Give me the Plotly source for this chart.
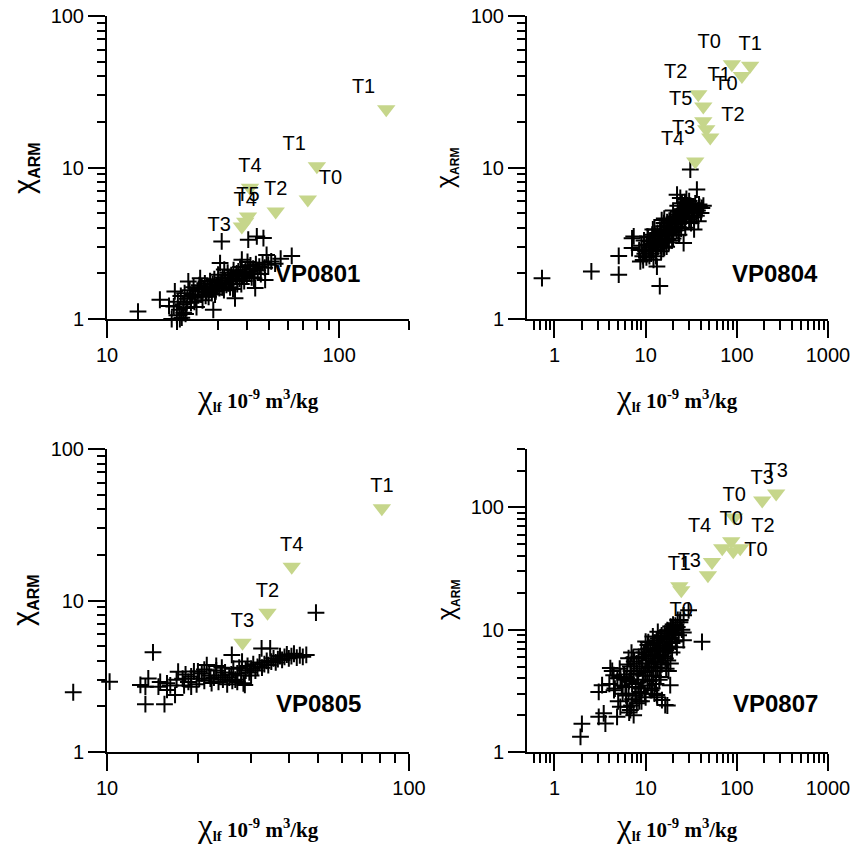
import plotly.graph_objects as go
import numpy as np

W, H = 854, 849

# ---------------- data ----------------
# VP0801
p1_cross_x = [13.6, 16.9, 18.5, 19.0, 19.4, 19.6, 20.0, 20.2, 20.5, 20.8, 21.0, 21.3, 21.6, 22.0, 22.2, 22.4, 22.7, 23.0, 23.3, 23.6,
              24.0, 24.3, 24.6, 25.0, 25.2, 25.5, 25.8, 26.1, 26.4, 26.8, 27.1, 27.4, 27.8, 28.1, 28.5, 28.7, 29.0, 29.4, 29.8, 30.1,
              30.5, 30.7, 31.0, 31.2, 31.5, 31.9, 32.3, 32.7, 33.1, 33.5, 33.9, 34.3, 34.7, 35.1, 35.6, 36.0, 36.4, 36.8, 37.2, 37.6,
              38.1, 38.5, 39.0, 39.5, 40.0, 40.6, 41.0, 41.5, 42.0, 42.6, 43.2, 43.5, 43.8, 44.2, 44.6, 45.3, 46.0, 46.8, 47.2, 47.8,
              48.0, 48.7, 49.5, 51.0, 53.0, 56.0, 62.5, 21.4, 23.8, 26.6, 29.2, 32.0, 34.9, 37.9, 40.3, 43.0, 24.8, 27.6, 30.3, 33.3,
              36.2, 39.2, 22.8, 25.6, 28.3, 31.4, 34.5, 20.6, 21.8]
p1_cross_y = [1.12, 1.34, 1.22, 1.00, 1.21, 1.52, 1.06, 1.30, 1.15, 1.42, 1.02, 1.25, 1.48, 1.18, 1.36, 1.77, 1.55, 1.28, 1.44, 1.62,
              1.38, 1.20, 1.52, 1.67, 1.86, 1.45, 1.33, 1.58, 1.72, 1.50, 1.64, 1.40, 1.78, 1.57, 1.69, 1.15, 1.83, 1.52, 1.66, 1.96,
              1.60, 2.34, 1.74, 3.25, 1.88, 1.55, 1.80, 1.68, 2.02, 1.86, 1.62, 1.95, 1.78, 2.10, 1.37, 1.90, 1.70, 2.06, 1.84, 2.20,
              2.46, 1.96, 1.78, 2.12, 1.92, 3.34, 2.05, 2.26, 1.88, 2.15, 2.00, 1.60, 2.30, 3.51, 2.10, 2.22, 1.98, 2.35, 3.42, 2.18,
              1.81, 2.65, 2.28, 2.40, 2.32, 2.50, 2.61, 1.10, 1.30, 1.42, 1.45, 2.12, 1.58, 1.70, 2.38, 1.85, 1.58, 1.55, 1.75, 1.72,
              2.00, 2.02, 1.40, 1.62, 1.48, 1.62, 1.85, 1.00, 1.08]
p1_tri_x = [159.6, 80.2, 73.3, 53.3, 41.3, 40.5, 39.4, 38.1]
p1_tri_y = [24.2, 10.2, 6.14, 5.13, 7.34, 4.74, 4.39, 4.08]
p1_tri_lab = ["T1", "T1", "T0", "T2", "T4", "T5", "T4", "T3"]

# VP0804
p2_cross_x = [0.73, 2.54, 5.07, 5.07, 7.1, 7.4, 7.1, 8.75, 8.5, 9.0, 9.3, 9.6, 10.0, 10.3, 10.6, 10.9, 11.2, 11.5, 11.8, 12.2,
              12.4, 12.7, 13.0, 13.3, 13.5, 13.8, 14.1, 14.3, 14.6, 15.0, 15.3, 15.7, 16.0, 16.4, 16.8, 17.2, 17.6, 18.0, 18.4, 18.8,
              19.2, 19.6, 20.0, 20.5, 21.0, 21.5, 22.0, 22.1, 22.5, 23.0, 23.5, 24.0, 24.5, 25.0, 25.5, 26.1, 26.5, 27.0, 27.5, 28.0,
              29.0, 30.0, 30.9, 31.0, 32.0, 33.0, 34.0, 35.0, 36.5, 37.0, 37.8, 39.0, 41.4, 43.0, 11.0, 13.0, 9.4, 16.0, 18.0, 20.0,
              24.0, 27.0, 15.0, 12.0, 22.5, 30.0, 34.0,
              9.8, 10.5, 11.3, 12.0, 12.9, 13.6, 14.4, 15.2, 15.9, 16.6, 17.4, 18.2, 19.0, 19.8, 20.8, 21.8, 22.8, 23.8, 24.8, 25.8,
              26.8, 28.5, 30.5, 32.5, 10.2, 14.8, 17.0, 19.5, 23.2, 27.2, 31.5, 12.5, 16.0, 20.0, 25.0, 28.0, 34.5, 36.0, 38.5, 40.5,
              11.8, 15.6]
p2_cross_y = [1.86, 2.06, 1.96, 2.61, 2.94, 3.51, 3.41, 2.40, 2.85, 3.05, 2.60, 3.30, 2.80, 3.10, 3.45, 2.95, 3.25, 2.70, 3.60, 2.46,
              3.15, 3.40, 2.95, 2.22, 3.70, 3.25, 3.50, 1.65, 3.05, 3.85, 3.40, 4.10, 3.60, 3.25, 3.90, 4.35, 3.55, 4.05, 3.75, 4.55,
              3.90, 4.25, 3.60, 4.70, 4.05, 4.40, 3.85, 6.62, 4.90, 4.25, 5.10, 4.55, 3.95, 5.30, 4.65, 3.17, 5.00, 4.40, 5.50, 4.80,
              5.20, 4.55, 9.70, 5.60, 5.00, 5.40, 4.70, 5.80, 7.15, 5.20, 4.41, 5.50, 5.41, 5.60, 2.60, 2.60, 2.45, 2.95, 3.20, 3.40,
              6.30, 5.90, 4.50, 3.90, 5.60, 6.00, 3.90,
              2.70, 3.50, 3.05, 3.30, 3.55, 3.00, 3.75, 3.20, 4.30, 3.70, 3.35, 4.45, 4.10, 3.75, 4.35, 4.75, 4.05, 4.85, 4.30, 5.05,
              4.65, 5.15, 5.00, 5.35, 2.55, 2.80, 3.00, 3.30, 3.60, 4.00, 4.30, 3.90, 4.60, 5.20, 5.80, 6.20, 5.20, 4.80, 5.70, 5.00,
              2.85, 3.00]
p2_tri_x = [88.3, 140.0, 113.7, 37.8, 42.9, 42.9, 46.2, 51.1, 35.0]
p2_tri_y = [48.1, 46.9, 40.2, 30.4, 25.3, 20.2, 17.9, 15.8, 10.96]
p2_tri_lab = ["T0", "T1", "T1", "T2", "T0", "T5", "T3", "T2", "T4"]

# VP0805
p3_cross_x = [7.73, 10.2, 14.2, 13.4, 15.5, 13.4, 12.9, 13.7, 14.8, 15.8, 16.8, 15.8, 17.2, 15.0, 16.2, 17.8, 18.2, 18.6, 19.0, 19.4,
              19.8, 20.2, 20.6, 21.0, 21.4, 21.8, 22.2, 22.6, 23.0, 23.4, 23.8, 24.2, 24.6, 25.0, 25.4, 25.9, 25.8, 26.2, 26.6, 27.0,
              27.4, 27.8, 28.3, 28.6, 28.8, 29.2, 29.6, 30.0, 30.5, 31.0, 31.5, 32.0, 32.5, 32.6, 33.2, 33.8, 34.2, 34.7, 35.0, 35.6,
              36.2, 36.8, 37.4, 38.0, 38.7, 39.4, 40.0, 40.8, 41.6, 42.5, 43.5, 44.5, 45.7, 49.2, 21.0, 23.0, 19.0, 24.0, 26.0, 28.0,
              30.0, 17.0, 18.0, 22.0, 20.0, 27.0]
p3_cross_y = [2.48, 2.91, 4.55, 2.07, 2.07, 2.70, 2.77, 3.06, 2.70, 2.57, 2.38, 2.84, 3.39, 2.90, 2.75, 3.05, 3.25, 2.90, 3.15, 3.40,
              2.80, 3.05, 3.30, 2.95, 3.75, 3.20, 2.85, 3.10, 3.45, 2.90, 3.20, 3.00, 3.35, 2.80, 3.10, 4.37, 3.25, 3.55, 3.00, 3.30,
              3.60, 3.20, 2.84, 2.77, 3.45, 3.70, 3.35, 3.55, 3.80, 3.45, 3.65, 3.90, 4.83, 3.60, 3.80, 4.00, 3.75, 4.83, 3.95, 4.15,
              3.90, 4.10, 4.30, 4.05, 4.25, 4.40, 4.15, 4.30, 4.45, 4.20, 4.35, 4.25, 4.37, 8.31, 3.50, 3.70, 2.70, 3.60, 2.95, 3.95,
              3.20, 3.00, 2.75, 3.05, 3.40, 2.90]
p3_tri_x = [81.3, 40.9, 34.0, 28.1]
p3_tri_y = [40.6, 16.7, 8.31, 5.27]
p3_tri_lab = ["T1", "T4", "T2", "T3"]

# VP0807
p4_cross_x = [1.93, 2.0, 3.06, 3.47, 3.62, 3.06, 3.33, 4.46, 4.86, 5.28, 6.25, 6.8, 7.39, 16.4, 18.6, 41.5, 29.6, 26.1, 24.0, 19.5,
              15.1, 13.3, 4.0, 4.3, 4.6, 4.9, 5.2, 5.5, 5.8, 6.1, 6.3, 6.6, 6.9, 7.2, 7.5, 7.8, 8.1, 8.4, 8.7, 9.0,
              9.3, 9.6, 9.9, 10.2, 10.5, 10.8, 11.1, 11.4, 11.7, 12.0, 12.3, 12.6, 12.9, 13.2, 13.5, 13.8, 14.1, 14.4, 14.7, 15.0,
              15.4, 15.8, 16.2, 16.6, 17.0, 17.5, 18.0, 18.5, 19.0, 19.5, 20.0, 20.7, 21.4, 22.2, 23.0, 23.8, 25.0, 22.0, 17.8, 11.5,
              8.0, 6.0, 5.0, 7.0, 10.0, 9.0, 12.5, 26.0, 25.9, 4.1, 6.5, 10.7, 17.3, 18.7, 13.4, 17.3,
              6.2, 6.5, 6.8, 7.1, 7.4, 7.7, 8.0, 8.3, 8.6, 8.9, 9.2, 9.5, 9.8, 10.1, 10.4, 10.7, 11.0, 11.3, 11.6, 11.9,
              12.2, 12.5, 12.8, 13.1, 13.4, 13.7, 14.0, 14.3, 14.6, 15.0, 15.5, 16.0, 16.5, 17.0, 17.6, 18.2, 18.8, 19.5, 20.3, 21.2,
              22.5, 8.5, 10.0, 11.8, 13.0, 14.6, 16.8, 7.0, 5.6, 5.9, 7.3, 9.0, 10.6, 12.0, 13.6, 6.6, 4.5, 5.3]
p4_cross_y = [1.33, 1.70, 1.94, 2.07, 1.71, 3.10, 3.52, 4.25, 1.94, 2.34, 2.34, 2.20, 2.00, 2.42, 3.52, 7.95, 14.4, 13.1, 12.0, 10.2,
              2.66, 2.92, 3.6, 4.6, 3.3, 4.0, 4.8, 3.5, 4.3, 2.9, 5.2, 3.8, 4.6, 2.7, 5.5, 3.4, 4.4, 6.0, 3.1, 5.0,
              3.9, 6.5, 4.5, 5.6, 3.5, 7.0, 4.9, 6.1, 4.2, 7.6, 5.4, 6.6, 4.6, 8.2, 5.8, 7.1, 3.9, 6.3, 8.7, 5.2,
              7.4, 6.0, 9.3, 6.8, 8.0, 5.6, 9.8, 7.3, 8.6, 6.5, 11.0, 9.2, 8.0, 10.5, 9.0, 11.5, 10.0, 7.2, 4.6, 3.2,
              2.5, 3.4, 2.6, 6.5, 8.0, 2.6, 3.0, 8.2, 9.5, 4.85, 5.85, 7.9, 9.9, 5.3, 2.8, 2.4,
              4.0, 3.0, 5.0, 3.6, 4.3, 2.9, 5.3, 3.7, 4.8, 3.3, 5.8, 4.2, 3.0, 6.3, 4.6, 5.3, 3.8, 7.0, 5.0, 6.0,
              4.2, 7.8, 5.5, 6.8, 4.9, 8.5, 6.2, 7.4, 5.4, 9.0, 6.6, 8.0, 5.8, 9.6, 7.0, 8.4, 10.6, 7.8, 9.8, 10.8,
              12.0, 2.6, 2.8, 3.3, 3.6, 4.1, 4.8, 2.4, 3.0, 3.9, 5.9, 6.9, 7.5, 8.8, 9.6, 2.1, 3.2, 4.1]
p4_tri_x = [270.0, 190.0, 93.7, 86.8, 109.0, 69.2, 91.4, 53.4, 48.2, 23.4, 24.6]
p4_tri_y = [130.0, 114.0, 82.8, 52.8, 46.3, 46.3, 43.7, 35.8, 27.9, 22.6, 21.0]
p4_tri_lab = ["T3", "T3", "T0", "T0", "T2", "T4", "T0", "T3", "", "T1", "T0"]

panel_names = ["VP0801", "VP0804", "VP0805", "VP0807"]

# ---------------- layout helpers ----------------
def xdom(a, b):
    return [a / W, b / W]

def ydom(top, bot):
    return [1 - bot / H, 1 - top / H]

FONT = "Liberation Sans, Arial, sans-serif"
SERIF = "Liberation Serif, Times New Roman, serif"
TRI_COLOR = "#c6d68b"

panels = [
    dict(cx=p1_cross_x, cy=p1_cross_y, tx=p1_tri_x, ty=p1_tri_y, tl=p1_tri_lab,
         tpos=["top left", "top left", "top right", "top center", "top center", "top center", "top center", "middle left"],
         xr=(10, 200), yr=(1, 100), xd=(107, 409), yd=(16, 319),
         xt=[10, 100], xminor=[20, 30, 40, 50, 60, 70, 80, 90, 200],
         yt=[1, 10, 100], yminor=[2, 3, 4, 5, 6, 7, 8, 9, 20, 30, 40, 50, 60, 70, 80, 90],
         lab=(317, 273), ytitle=(26, 168, 29, 16), xtitle=(258, 397)),
    dict(cx=p2_cross_x, cy=p2_cross_y, tx=p2_tri_x, ty=p2_tri_y, tl=p2_tri_lab,
         tpos=["top left", "top center", "middle left", "top left", "top right", "top left", "middle left", "top right", "top left"],
         xr=(0.5, 1000), yr=(1, 100), xd=(527, 828), yd=(16, 319),
         xt=[1, 10, 100, 1000],
         xminor=[0.6, 0.7, 0.8, 0.9, 2, 3, 4, 5, 6, 7, 8, 9, 20, 30, 40, 50, 60, 70, 80, 90, 200, 300, 400, 500, 600, 700, 800, 900],
         yt=[1, 10, 100], yminor=[2, 3, 4, 5, 6, 7, 8, 9, 20, 30, 40, 50, 60, 70, 80, 90],
         lab=(775, 273), ytitle=(447, 168, 25, 12), xtitle=(677, 397)),
    dict(cx=p3_cross_x, cy=p3_cross_y, tx=p3_tri_x, ty=p3_tri_y, tl=p3_tri_lab,
         tpos=["top center", "top center", "top center", "top center"],
         xr=(10, 100), yr=(1, 100), xd=(107, 409), yd=(449, 752),
         xt=[10, 100], xminor=[20, 30, 40, 50, 60, 70, 80, 90],
         yt=[1, 10, 100], yminor=[2, 3, 4, 5, 6, 7, 8, 9, 20, 30, 40, 50, 60, 70, 80, 90],
         lab=(318, 703), ytitle=(24, 600, 29, 16), xtitle=(258, 826),
         ext_left=60),
    dict(cx=p4_cross_x, cy=p4_cross_y, tx=p4_tri_x, ty=p4_tri_y, tl=p4_tri_lab,
         tpos=["top center", "top center", "top center", "top center", "top right", "top left", "middle right",
               "middle left", "top center", "top center", "bottom center"],
         xr=(0.5, 1000), yr=(1, 300), xd=(527, 828), yd=(449, 752),
         xt=[1, 10, 100, 1000],
         xminor=[0.6, 0.7, 0.8, 0.9, 2, 3, 4, 5, 6, 7, 8, 9, 20, 30, 40, 50, 60, 70, 80, 90, 200, 300, 400, 500, 600, 700, 800, 900],
         yt=[1, 10, 100], yminor=[2, 3, 4, 5, 6, 7, 8, 9, 20, 30, 40, 50, 60, 70, 80, 90, 200, 300],
         lab=(775, 703), ytitle=(447, 600, 25, 12), xtitle=(677, 826)),
]

fig = go.Figure()
annotations = []
layout_axes = {}
extra_axis_n = 5

for i, p in enumerate(panels, start=1):
    xa = "x" if i == 1 else f"x{i}"
    ya = "y" if i == 1 else f"y{i}"
    xkey = "xaxis" if i == 1 else f"xaxis{i}"
    ykey = "yaxis" if i == 1 else f"yaxis{i}"
    lx0, lx1 = np.log10(p["xr"][0]), np.log10(p["xr"][1])

    cross_xa = xa
    if "ext_left" in p:
        # hidden axis with identical scale, extended to the left so an
        # outlier below the axis minimum is still drawn (as in the reference)
        left_px = p["ext_left"]
        ppd = (p["xd"][1] - p["xd"][0]) / (lx1 - lx0)
        cross_xa = f"x{extra_axis_n}"
        layout_axes[f"xaxis{extra_axis_n}"] = dict(
            type="log", domain=xdom(left_px, p["xd"][1]), anchor=ya, visible=False,
            range=[lx0 - (p["xd"][0] - left_px) / ppd, lx1], showgrid=False, zeroline=False)
        extra_axis_n += 1

    fig.add_trace(go.Scatter(
        x=p["cx"], y=p["cy"], xaxis=cross_xa, yaxis=ya, mode="markers",
        marker=dict(symbol="cross-thin", size=12, line=dict(color="black", width=2), color="black"),
        cliponaxis=False, showlegend=False, hoverinfo="skip"))
    fig.add_trace(go.Scatter(
        x=p["tx"], y=p["ty"], xaxis=xa, yaxis=ya, mode="markers+text",
        text=p["tl"], textposition=p["tpos"],
        textfont=dict(family=FONT, size=20, color="black"),
        marker=dict(symbol="triangle-down", size=16, color=TRI_COLOR, line=dict(width=0)),
        cliponaxis=False, showlegend=False, hoverinfo="skip"))

    common = dict(type="log", showline=True, linecolor="black", linewidth=2, ticks="outside",
                  ticklen=17, tickwidth=1.5, tickcolor="black", showgrid=False, zeroline=False,
                  tickfont=dict(family=FONT, size=20, color="black"), mirror=False, automargin=False)
    layout_axes[xkey] = dict(common, domain=xdom(*p["xd"]), anchor=ya,
                             range=[lx0, lx1],
                             tickmode="array", tickvals=p["xt"], ticktext=[str(v) for v in p["xt"]],
                             minor=dict(tickmode="array", tickvals=p["xminor"], ticks="outside",
                                        ticklen=9, tickwidth=1.5, tickcolor="black", showgrid=False))
    layout_axes[ykey] = dict(common, domain=ydom(*p["yd"]), anchor=xa,
                             range=[np.log10(p["yr"][0]), np.log10(p["yr"][1])],
                             tickmode="array", tickvals=p["yt"], ticktext=[str(v) for v in p["yt"]],
                             minor=dict(tickmode="array", tickvals=p["yminor"], ticks="outside",
                                        ticklen=8, tickwidth=1.5, tickcolor="black", showgrid=False))

    annotations.append(dict(x=p["lab"][0] / W, y=1 - p["lab"][1] / H, xref="paper", yref="paper",
                            text=f"<b>{panel_names[i-1]}</b>", showarrow=False,
                            font=dict(family=FONT, size=24, color="black"),
                            xanchor="center", yanchor="middle"))
    tx, ty, big, small = p["ytitle"]
    annotations.append(dict(x=tx / W, y=1 - ty / H, xref="paper", yref="paper", textangle=-90,
                            text=f"<span style='font-size:{big}px'>χ</span>"
                                 f"<sub><span style='font-size:{small}px'><b>ARM</b></span></sub>",
                            showarrow=False, font=dict(family=FONT, size=big, color="black"),
                            xanchor="center", yanchor="middle"))
    ax, ay = p["xtitle"]
    annotations.append(dict(x=ax / W, y=1 - ay / H, xref="paper", yref="paper",
                            text="<span style='font-size:33px'>χ</span><sub><b>lf</b></sub>"
                                 " <b>10<sup>-9</sup> m<sup>3</sup>/kg</b>",
                            showarrow=False, font=dict(family=SERIF, size=21, color="black"),
                            xanchor="center", yanchor="middle"))

fig.update_layout(
    width=W, height=H, autosize=False, margin=dict(l=0, r=0, t=0, b=0, pad=0, autoexpand=False),
    paper_bgcolor="white", plot_bgcolor="rgba(0,0,0,0)",
    annotations=annotations, showlegend=False, **layout_axes)

fig.write_html("out.html", config={"displayModeBar": False},
               post_script="document.body.style.margin='0';")
